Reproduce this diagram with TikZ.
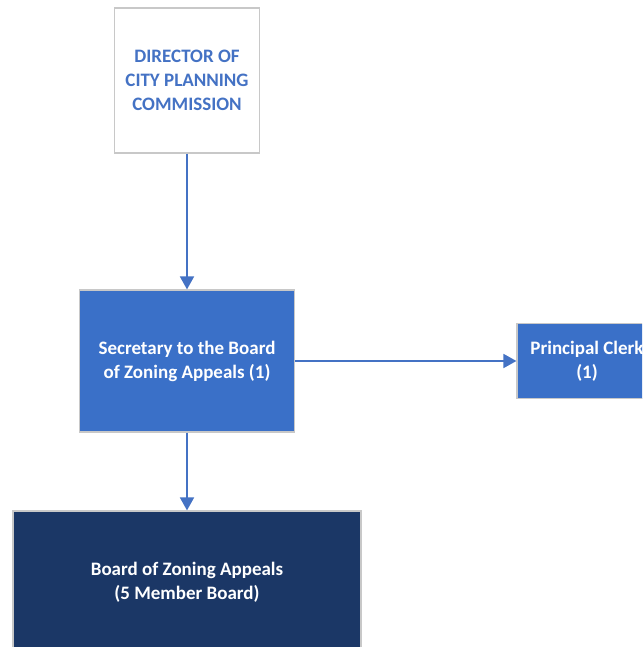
\documentclass[tikz,border=0pt]{standalone}
\usepackage{fontspec}
\setmainfont{Carlito}
\usetikzlibrary{arrows.meta}
\definecolor{linkblue}{HTML}{4472C4}
\definecolor{midblue}{HTML}{3A70C8}
\definecolor{navy}{HTML}{1B3766}
\definecolor{edgegray}{HTML}{C8C8C8}
\tikzset{
  orgbox/.style={draw=edgegray, line width=1.2pt, align=center, inner sep=0pt,
    font=\fontsize{19}{24}\selectfont\bfseries},
  headbox/.style={orgbox, fill=white, text=linkblue},
  staffbox/.style={orgbox, fill=midblue, text=white},
  boardbox/.style={orgbox, fill=navy, text=white},
  link/.style={draw=linkblue, line width=1.8pt,
    -{Triangle[length=13pt,width=14pt]}}
}
\begin{document}
\begin{tikzpicture}[x=1pt,y=-1pt]
  \useasboundingbox (0,0) rectangle (642,647);
  \clip (0,0) rectangle (642,647);
  \fill[white] (0,0) rectangle (642,647);
  \node[headbox, minimum width=145pt, minimum height=145pt] (dir) at (187,80.5)
    {DIRECTOR OF\\CITY PLANNING\\COMMISSION};
  \node[staffbox, minimum width=215pt, minimum height=142pt] (sec) at (187,361)
    {Secretary to the Board\\of Zoning Appeals (1)};
  \node[staffbox, minimum width=140pt, minimum height=75pt] (clerk) at (587,361)
    {Principal Clerk\\(1)};
  \node[boardbox, minimum width=348pt, minimum height=142pt] (board) at (187,582)
    {Board of Zoning Appeals\\ (5 Member Board)};
  \draw[link] (dir.south) -- (sec.north);
  \draw[link] (sec.east) -- (clerk.west);
  \draw[link] (sec.south) -- (board.north);
\end{tikzpicture}
\end{document}
